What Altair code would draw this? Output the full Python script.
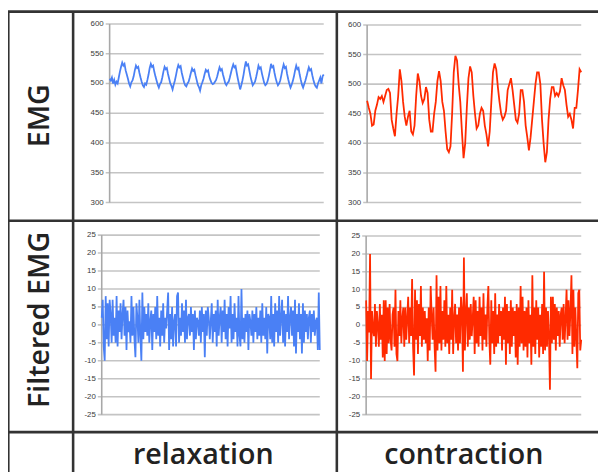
import altair as alt
import pandas as pd

# ---------------- data ----------------
relax_emg = [
    508, 505, 510, 500, 506, 498, 503, 500,
    510, 520, 528, 535, 530, 533, 522, 515, 508, 500, 495, 502,
    505, 512, 522, 530, 526, 528, 518, 510, 503, 497, 494, 500,
    498, 506, 515, 526, 533, 528, 530, 520, 512, 505, 498, 493, 499,
    502, 510, 520, 528, 524, 526, 516, 508, 500, 496, 490, 498,
    505, 514, 524, 531, 527, 529, 518, 510, 502, 497, 495, 500,
    503, 510, 518, 525, 521, 523, 514, 506, 498, 494, 488, 497,
    502, 508, 516, 523, 520, 522, 512, 506, 501, 499, 500, 503,
    506, 512, 520, 527, 522, 524, 515, 508, 500, 497, 501,
    503, 510, 518, 526, 532, 527, 529, 518, 508, 499, 490, 497,
    505, 515, 527, 537, 530, 532, 522, 512, 504, 497, 500,
    503, 511, 520, 530, 525, 527, 517, 509, 501, 497, 499,
    504, 512, 522, 533, 527, 529, 518, 509, 502, 497, 500,
    505, 514, 524, 532, 526, 528, 516, 507, 499, 493, 498,
    504, 512, 522, 530, 524, 526, 515, 506, 498, 493, 499,
    505, 512, 520, 527, 522, 524, 514, 506, 499, 495, 493, 500,
    505, 510, 500, 512, 515,
]

contr_emg = [
    472, 460, 450, 430, 432, 455, 465, 478, 475, 480, 470, 480, 490, 492, 485,
    440, 425, 412, 450, 480, 525, 505, 470, 445, 430, 445, 455, 420, 415, 430,
    480, 518, 505, 480, 468, 475, 495, 485, 440, 420, 420, 450, 470, 505, 522,
    505, 470, 455, 420, 390, 385, 395, 450, 520, 548, 540, 500, 470, 420, 375,
    400, 460, 510, 530, 520, 480, 450, 425, 430, 450, 460, 455, 430, 415, 395,
    420, 470, 520, 535, 525, 495, 470, 450, 440, 445, 455, 490, 500, 510, 490,
    465, 440, 435, 450, 490, 490, 470, 430, 410, 388, 410, 440, 470, 500, 520,
    520, 500, 440, 400, 368, 385, 440, 475, 495, 495, 480, 485, 480, 488, 510,
    498, 490, 465, 445, 450, 440, 425, 460, 460, 490, 525, 520,
]

relax_filt = [
    2, 7, -6, -10, 8, -4, 6, -6, 7, 3,
    -5, 7, -3, 2, -5, 8, -6, 4, -2, 6,
    -4, 3, 7, -3, 5, -7, 4, -2, 1, -5,
    8, -3, 5, -4, -9, 6, 2, -5, 7, -3,
    -10, 9, -4, 5, -2, 3, -3, 6, -5, 1,
    4, -7, 3, -2, 5, -4, 8, -3, 2, -6,
    4, -3, 6, -5, 2, -1, 4, 9, -7, 3,
    -4, 5, -6, 1, 3, -6, 8, 9, -5, 2,
    -3, 6, -2, 4, -5, 7, -4, 2, 3, -3,
    5, -2, 3, -7, 4, -4, 2, 1, -3, 4,
    -5, 5, -2, 3, -9, 4, -3, 5, 2, -4,
    1, 6, -5, 3, -2, 4, -6, 7, -3, 2,
    5, -5, 4, -2, 7, -4, 3, -6, 5, -1,
    8, -5, 3, -4, 6, -2, 2, -6, 8, -3,
    -6, 10, -4, 2, -5, 3, -2, 4, -7, 3,
    1, -3, 4, -5, 3, -2, 5, -4, 2, -3,
    4, -5, 6, -3, 2, -4, 5, -8, 3, 2,
    -4, 8, -5, 3, -6, 6, -2, 4, -5, 8,
    -3, 2, 7, -5, 4, -6, 3, -2, 8, -4,
    2, 5, -3, 4, -6, 7, -8, 3, -2, 6,
    -4, 3, -8, 6, -5, 4, -2, 3, -4, 2,
    4, -5, 3, -2, 4, -3, 1, 2, -7, 9,
    -7,
]

contr_filt = [
    7, -10, 4, -2, 20, -15, 4, -1, -3, 6,
    -6, 4, 0, -6, 6, -4, 3, -9, 7, -10,
    7, -8, 5, -5, 6, -4, -7, 3, 5, -6,
    10, -8, -10, 4, -3, 7, -5, 2, 5, -6,
    5, -4, 2, 8, -5, 5, -3, 13, -6, -14,
    10, -4, 7, -8, 6, -3, 11, -6, 5, -4,
    4, -5, 2, -10, 5, -7, 11, 3, -4, 5,
    -6, -13, 14, -7, 8, -5, 11, -7, 4, -4,
    7, -6, 11, -5, 3, -8, 5, -4, 10, -8,
    2, 6, -5, 3, -7, 5, -5, 8, 4, -13,
    19, -7, 3, 9, -6, 5, -4, 6, -3, 2,
    8, -8, 7, -5, 4, -6, 8, -3, 5, -7,
    9, -4, 3, -6, 5, 11, -4, -11, 7, -5,
    4, -8, 9, -6, 3, -5, 6, -3, 4, -7,
    5, -4, 8, -11, 6, -5, 4, -8, 7, -6,
    5, -3, 4, -9, 6, -11, 5, -6, 11, -5,
    8, -7, 4, -6, 5, -9, 7, -5, 3, -11,
    14, -6, 5, -8, 7, -4, 5, -9, 3, -6,
    6, -8, 15, -7, 5, -6, 4, -3, -18, 8,
    -5, 8, -4, 6, -7, 5, -3, 4, -6, 3,
    5, -4, 6, -5, 2, 10, -4, 7, -3, 4,
    14, -8, 10, -6, 5, -4, -12, 9, 10, -7,
    -4,
]

emg_ticks = [300, 350, 400, 450, 500, 550, 600]
filt_ticks = [-25, -20, -15, -10, -5, 0, 5, 10, 15, 20, 25]

row_labels = ["EMG", "Filtered EMG"]
col_labels = ["relaxation", "contraction"]

BLUE = "#4a80f5"
RED = "#ff2a00"
GRID = "#c4c4c4"
AXIS = "#a8a8a8"
BORDER = "#333333"


def panel(values, ticks, color, ax, xend, ytop, ybot):
    n = len(values)
    df = pd.DataFrame({"t": list(range(n)), "v": values})
    tk = pd.DataFrame({"tick": ticks, "label": [str(t) for t in ticks]})
    ys = alt.Scale(domain=[ticks[0], ticks[-1]], range=[ybot, ytop], nice=False, zero=False)
    xs = alt.Scale(domain=[0, n - 1], range=[ax, xend], nice=False, zero=False)
    grid = alt.Chart(tk).mark_rule(color=GRID, strokeWidth=1.6).encode(
        x=alt.value(ax - 4), x2=alt.value(xend),
        y=alt.Y("tick:Q", scale=ys, axis=None),
    )
    labels = alt.Chart(tk).mark_text(
        align="right", baseline="middle", fontSize=8, color="#3a3a3a",
        font="Liberation Sans",
    ).encode(
        x=alt.value(ax - 6),
        y=alt.Y("tick:Q", scale=ys, axis=None),
        text="label:N",
    )
    axis_line = alt.Chart(alt.Data(values=[{}])).mark_rule(
        color=AXIS, strokeWidth=1.6
    ).encode(x=alt.value(ax), y=alt.value(ytop), y2=alt.value(ybot))
    line = alt.Chart(df).mark_line(color=color, strokeWidth=1.8).encode(
        x=alt.X("t:Q", scale=xs, axis=None),
        y=alt.Y("v:Q", scale=ys, axis=None),
    )
    return alt.layer(grid, axis_line, labels, line)


W, H = 598, 467

p1 = panel(relax_emg, emg_ticks, BLUE, 103, 320, 13, 194)
p2 = panel(contr_emg, emg_ticks, RED, 364, 581, 14, 194)
p3 = panel(relax_filt, filt_ticks, BLUE, 95, 316, 227, 409)
p4 = panel(contr_filt, filt_ticks, RED, 363, 581, 228, 409)

one = alt.Data(values=[{}])


def hline(y):
    return alt.Chart(one).mark_rule(color=BORDER, strokeWidth=2.6).encode(
        x=alt.value(0), x2=alt.value(W), y=alt.value(y))


def vline(x):
    return alt.Chart(one).mark_rule(color=BORDER, strokeWidth=2.6).encode(
        x=alt.value(x), y=alt.value(0), y2=alt.value(H))


borders = [hline(0.5), hline(212.5), hline(426.7), vline(0.3), vline(66), vline(333.3)]

text_style = dict(font="Open Sans", fontWeight=600, fontSize=29, color="#222222")

row_text = [
    alt.Chart(one).mark_text(text=row_labels[0], angle=270, align="center",
                             baseline="middle", **text_style).encode(
        x=alt.value(32.5), y=alt.value(106)),
    alt.Chart(one).mark_text(text=row_labels[1], angle=270, align="center",
                             baseline="middle", **text_style).encode(
        x=alt.value(32.5), y=alt.value(313)),
]
col_text = [
    alt.Chart(one).mark_text(text=col_labels[0], align="center",
                             baseline="alphabetic", **text_style).encode(
        x=alt.value(198), y=alt.value(459)),
    alt.Chart(one).mark_text(text=col_labels[1], align="center",
                             baseline="alphabetic", **text_style).encode(
        x=alt.value(462), y=alt.value(459)),
]

chart = alt.layer(p1, p2, p3, p4, *borders, *row_text, *col_text).resolve_scale(
    x="independent", y="independent"
).properties(
    width=W, height=H, autosize="none", padding=0, background="white"
).configure_view(stroke=None)

chart.save("out.html", embed_options={"renderer": "svg", "actions": False})
